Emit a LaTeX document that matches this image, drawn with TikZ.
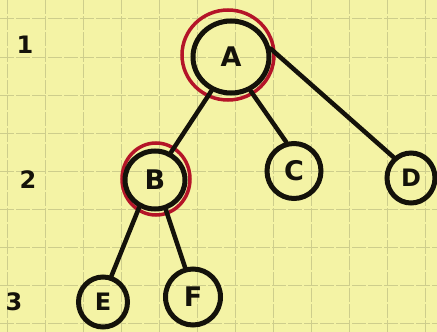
\documentclass[tikz,border=0pt]{standalone}
\usepackage{fontspec}
\setmainfont{DejaVu Sans}
\usetikzlibrary{shapes.geometric}
\definecolor{paper}{RGB}{244,243,165}
\definecolor{gridc}{RGB}{205,205,140}
\definecolor{ink}{RGB}{20,18,10}
\definecolor{redink}{RGB}{180,20,40}
\tikzset{
  treenode/.style={draw=ink, line width=5pt, ellipse, inner sep=0pt, font=\bfseries\fontsize{27}{27}\selectfont, text=ink},
  ring/.style={draw=redink, line width=3.5pt},
  edge/.style={draw=ink, line width=4.5pt, line cap=round},
  rowlabel/.style={font=\bfseries\fontsize{24}{24}\selectfont, text=ink},
  gridline/.style={draw=gridc, line width=0.8pt, dash pattern=on 14pt off 2pt}
}
\begin{document}
\begin{tikzpicture}[x=1pt,y=-1pt]
\fill[paper] (0,0) rectangle (437,332);
\useasboundingbox (0,0) rectangle (437,332);
% grid
\foreach \gx in {7,45,83,121,159,197,235,273,311,349,387,425}
  \draw[gridline] (\gx,0) -- (\gx,332);
\foreach \gy in {18,57,95,133,171,209,247,285,323}
  \draw[gridline] (0,\gy) -- (437,\gy);
% red rings
\draw[ring] (228,55) ellipse [x radius=46, y radius=45];
\draw[ring] (156,179) ellipse [x radius=34, y radius=36];
% nodes
\node[treenode, minimum width=76pt, minimum height=72pt] (A) at (231,57) {A};
\node[treenode, minimum width=60pt, minimum height=58pt] (B) at (155,180) {B};
\node[treenode, minimum width=54pt, minimum height=55pt] (C) at (294,171) {C};
\node[treenode, minimum width=48pt, minimum height=50pt, font=\bfseries\fontsize{24}{24}\selectfont] (D) at (411,178) {D};
\node[treenode, minimum width=49pt, minimum height=50pt, font=\bfseries\fontsize{24}{24}\selectfont] (E) at (103,302) {E};
\node[treenode, minimum width=55pt, minimum height=56pt] (F) at (193,297) {F};
% edges
\draw[edge] (A.240) -- (B.60);
\draw[edge] (A.300) -- (C.105);
\draw[edge] (A.12) -- (D.130);
\draw[edge] (B.240) -- (E.72);
\draw[edge] (B.290) -- (F.105);
% row labels
\node[rowlabel] (r1) at (25,45) {1};
\node[rowlabel] (r2) at (28,180) {2};
\node[rowlabel] (r3) at (14,302) {3};
\end{tikzpicture}
\end{document}
